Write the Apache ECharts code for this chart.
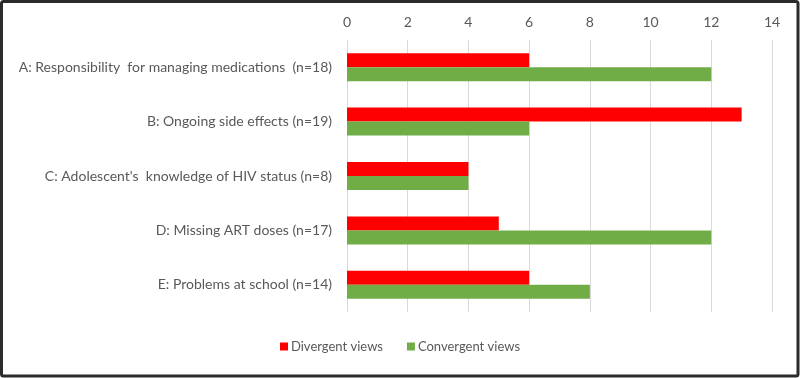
<!DOCTYPE html>
<html><head><meta charset="utf-8">
<script src="https://cdn.jsdelivr.net/npm/echarts@6/dist/echarts.min.js"></script>
<style>html,body{margin:0;padding:0;background:#fff}#c{width:800px;height:378px}</style>
</head><body><div id="c"></div>
<script>
const categories = [
  "A: Responsibility  for managing medications  (n=18)",
  "B: Ongoing side effects (n=19)",
  "C: Adolescent's  knowledge of HIV status (n=8)",
  "D: Missing ART doses (n=17)",
  "E: Problems at school (n=14)"
];
const divergent = [6, 13, 4, 5, 6];
const convergent = [12, 6, 4, 12, 8];
const seriesNames = ["Divergent views", "Convergent views"];

const chart = echarts.init(document.getElementById('c'), null, {renderer: 'canvas'});
const font = 'Lato, "Open Sans", sans-serif';
chart.setOption({
  animation: false,
  textStyle: {fontFamily: font},
  graphic: [{
    type: 'rect', shape: {x: 1.5, y: 1.5, width: 796.5, height: 374.5, r: 2},
    style: {fill: 'none', stroke: '#2b2b2b', lineWidth: 3}, z: 100
  }],
  grid: {left: 347, right: 28, top: 40, bottom: 66},
  legend: {
    bottom: 20, left: 'center', itemWidth: 8, itemHeight: 8, itemGap: 24,
    icon: 'rect',
    textStyle: {color: '#595959', fontSize: 13, fontFamily: font, padding: [0, 0, 0, -2]},
    data: seriesNames
  },
  xAxis: {
    type: 'value', position: 'top', min: 0, max: 14, interval: 2,
    axisLine: {show: false}, axisTick: {show: false},
    splitLine: {lineStyle: {color: '#d9d9d9', width: 1}},
    axisLabel: {color: '#595959', fontSize: 14, margin: 11, fontFamily: font}
  },
  yAxis: {
    type: 'category', data: categories, inverse: true,
    axisLine: {show: true, lineStyle: {color: '#d9d9d9'}},
    axisTick: {show: false},
    axisLabel: {color: '#595959', fontSize: 14, margin: 15, fontFamily: font}
  },
  series: [
    {name: seriesNames[0], type: 'bar', data: divergent, barWidth: 14, barGap: '0%',
     itemStyle: {color: '#ff0000'}},
    {name: seriesNames[1], type: 'bar', data: convergent, barWidth: 14, barGap: '0%',
     itemStyle: {color: '#70ad47'}}
  ]
});
</script></body></html>
